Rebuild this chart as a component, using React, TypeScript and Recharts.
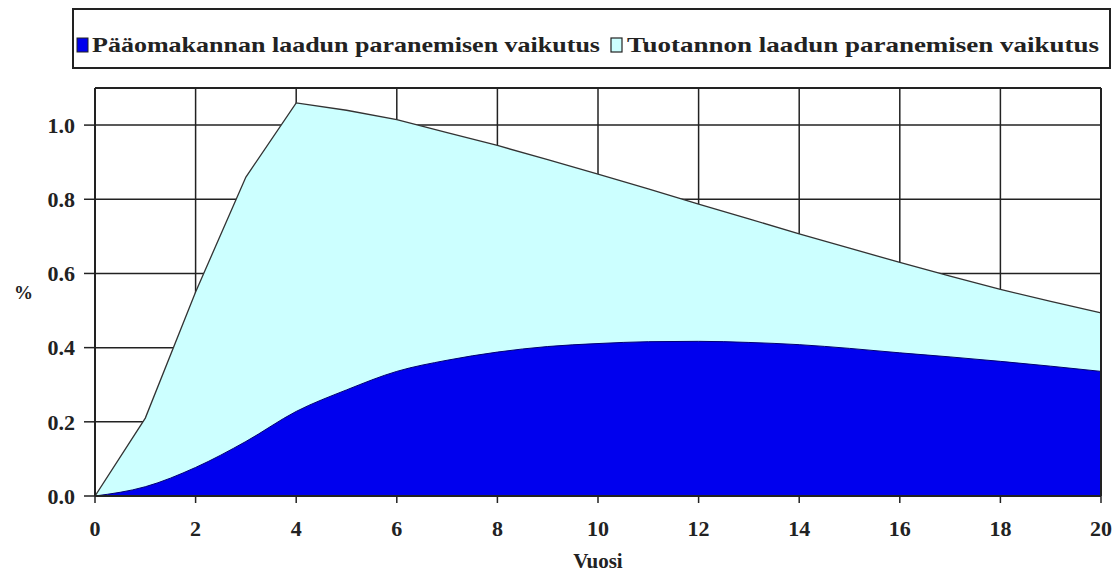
import React from "react";
import { ComposedChart, Area, XAxis, YAxis, CartesianGrid, ReferenceLine } from "recharts";

// vuodet 0..20
const years = [0, 1, 2, 3, 4, 5, 6, 7, 8, 9, 10, 11, 12, 13, 14, 15, 16, 17, 18, 19, 20];
// pääomakannan laadun paranemisen vaikutus (alempi kerros)
const paaoma = [0, 0.025, 0.077, 0.147, 0.228, 0.286, 0.336, 0.366, 0.388, 0.403, 0.411, 0.416, 0.417, 0.414, 0.408, 0.398, 0.386, 0.375, 0.363, 0.35, 0.336];
// tuotannon laadun paranemisen vaikutus (ylempi kerros)
const tuotanto = [0, 0.185, 0.473, 0.713, 0.832, 0.754, 0.679, 0.614, 0.557, 0.504, 0.457, 0.412, 0.37, 0.333, 0.299, 0.27, 0.244, 0.218, 0.194, 0.175, 0.158];

const xTicks = [0, 2, 4, 6, 8, 10, 12, 14, 16, 18, 20];
const yTicks = [0, 0.2, 0.4, 0.6, 0.8, 1.0];

const seriesNames = ["Pääomakannan laadun paranemisen vaikutus", "Tuotannon laadun paranemisen vaikutus"];

const BLUE = "#0000ee";
const CYAN = "#ccffff";
const INK = "#222";
const FONT = "Liberation Serif";

const data = years.map((y, i) => ({
  year: y,
  paaoma: paaoma[i],
  total: +(paaoma[i] + tuotanto[i]).toFixed(3),
}));

function LegendBox() {
  return (
    <svg width={1118} height={80} style={{ position: "absolute", left: 0, top: 0 }}>
      <rect x={73} y={9} width={1037} height={59} fill="#fff" stroke={INK} strokeWidth={2} />
      <rect x={77} y={38} width={11} height={14} fill={BLUE} stroke={INK} strokeWidth={1} />
      <text x={92} y={52} fontFamily={FONT} fontWeight="bold" fontSize={22} fill={INK} textLength={508} lengthAdjust="spacingAndGlyphs">
        {seriesNames[0]}
      </text>
      <rect x={611} y={38} width={11} height={14} fill={CYAN} stroke={INK} strokeWidth={1.2} />
      <text x={627} y={52} fontFamily={FONT} fontWeight="bold" fontSize={22} fill={INK} textLength={472} lengthAdjust="spacingAndGlyphs">
        {seriesNames[1]}
      </text>
    </svg>
  );
}

const tickStyle = { fill: INK, fontSize: 22, fontWeight: "bold", fontFamily: FONT };

export default function App() {
  return (
    <div style={{ position: "absolute", left: 0, top: 0, width: 1118, height: 575, background: "#fff" }}>
      <ComposedChart width={1118} height={575} data={data} margin={{ top: 88, right: 17, bottom: 29, left: 35 }}>
        <CartesianGrid stroke={INK} strokeWidth={1.5} />
        <XAxis
          dataKey="year"
          type="number"
          domain={[0, 20]}
          ticks={xTicks}
          height={50}
          tickSize={7}
          tickMargin={17}
          axisLine={{ stroke: INK, strokeWidth: 2 }}
          tickLine={{ stroke: INK, strokeWidth: 1.5 }}
          tick={tickStyle}
          label={{ value: "Vuosi", position: "insideBottom", offset: -22, fill: INK, fontSize: 21, fontWeight: "bold", fontFamily: FONT }}
        />
        <YAxis
          type="number"
          domain={[0, 1.1]}
          ticks={yTicks}
          width={60}
          tickSize={11}
          tickMargin={9}
          allowDataOverflow
          tickFormatter={(v: number) => v.toFixed(1)}
          axisLine={{ stroke: INK, strokeWidth: 2 }}
          tickLine={{ stroke: INK, strokeWidth: 1.5 }}
          tick={tickStyle}
          label={{ value: "%", position: "insideLeft", offset: -21, fill: INK, fontSize: 19, fontWeight: "bold", fontFamily: FONT }}
        />
        <Area
          dataKey="total"
          name={seriesNames[1]}
          type="linear"
          fill={CYAN}
          fillOpacity={1}
          stroke="#333"
          strokeWidth={1.3}
          isAnimationActive={false}
        />
        <Area
          dataKey="paaoma"
          name={seriesNames[0]}
          type="monotone"
          fill={BLUE}
          fillOpacity={1}
          stroke="#000070"
          strokeWidth={1}
          isAnimationActive={false}
        />
        <ReferenceLine y={1.1} stroke={INK} strokeWidth={2} />
        <ReferenceLine x={20} stroke={INK} strokeWidth={2} />
      </ComposedChart>
      <LegendBox />
    </div>
  );
}
